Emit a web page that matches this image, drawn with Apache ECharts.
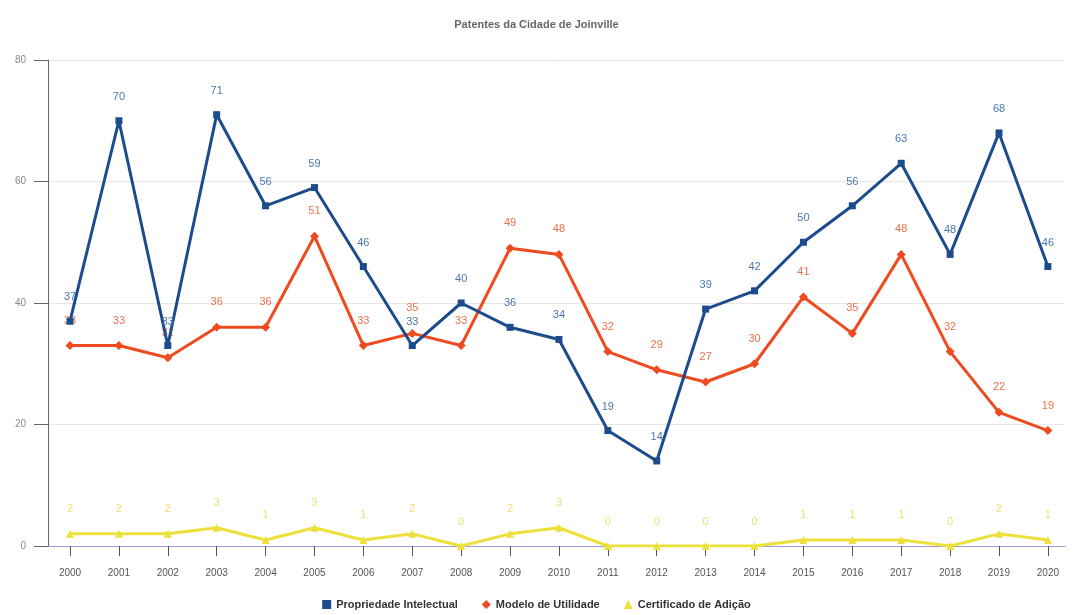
<!DOCTYPE html>
<html>
<head>
<meta charset="utf-8">
<script src="https://cdn.jsdelivr.net/npm/echarts@6/dist/echarts.min.js"></script>
<style>html,body{margin:0;padding:0;background:#fff;}#c{width:1073px;height:615px;}</style>
</head>
<body>
<div id="c"></div>
<script>
const years = [2000,2001,2002,2003,2004,2005,2006,2007,2008,2009,2010,2011,2012,2013,2014,2015,2016,2017,2018,2019,2020];
const propriedade = [37,70,33,71,56,59,46,33,40,36,34,19,14,39,42,50,56,63,48,68,46];
const modelo = [33,33,31,36,36,51,33,35,33,49,48,32,29,27,30,41,35,48,32,22,19];
const certificado = [2,2,2,3,1,3,1,2,0,2,3,0,0,0,0,1,1,1,0,2,1];
const yTicks = [0,20,40,60,80];

const pairs = arr => years.map((y,i)=>[y,arr[i]]);
const chart = echarts.init(document.getElementById('c'));
const labelCfg = (color)=>({show:true,position:'top',distance:15,color:color,fontSize:11,fontFamily:'Liberation Sans, Arial'});
chart.setOption({
  animation:false,
  title:{text:'Patentes da Cidade de Joinville',left:'center',top:14,textStyle:{fontSize:11,fontWeight:'bold',color:'#666',fontFamily:'Liberation Sans, Arial'}},
  legend:{bottom:0,left:'center',itemWidth:9,itemHeight:9,itemGap:24,
    textStyle:{fontSize:11,fontWeight:'bold',color:'#333',fontFamily:'Liberation Sans, Arial'},
    data:[{name:'Propriedade Intelectual',icon:'rect'},{name:'Modelo de Utilidade',icon:'diamond'},{name:'Certificado de Adição',icon:'triangle'}]},
  grid:{left:48,right:8,top:60,bottom:69,containLabel:false},
  xAxis:{type:'value',min:1999.55,max:2020.35,
    axisLine:{show:true,onZero:false,lineStyle:{color:'#9a9ad8',width:1}},
    axisTick:{show:true,length:10,customValues:years,lineStyle:{color:'#555'}},
    axisLabel:{customValues:years,color:'#555',fontSize:10,margin:22,fontFamily:'Liberation Sans, Arial',formatter:v=>String(v)},
    splitLine:{show:false}},
  yAxis:{type:'value',min:0,max:80,interval:20,
    axisLine:{show:true,lineStyle:{color:'#666'}},
    axisTick:{show:true,length:14,lineStyle:{color:'#666'}},
    axisLabel:{color:'#888',fontSize:10,margin:22,fontFamily:'Liberation Sans, Arial',customValues:yTicks},
    splitLine:{show:true,lineStyle:{color:'#e8e8e8'}}},
  series:[
    {name:'Propriedade Intelectual',type:'line',data:pairs(propriedade),symbol:'rect',symbolSize:7,
      itemStyle:{color:'#1d4c8c'},lineStyle:{width:3,color:'#1d4c8c'},label:labelCfg('#4a78b0'),z:3},
    {name:'Modelo de Utilidade',type:'line',data:pairs(modelo),symbol:'diamond',symbolSize:9,
      itemStyle:{color:'#ef4b20'},lineStyle:{width:3,color:'#ef4b20'},label:labelCfg('#f0704c'),z:2},
    {name:'Certificado de Adição',type:'line',data:pairs(certificado),symbol:'triangle',symbolSize:8,
      itemStyle:{color:'#ece13a'},lineStyle:{width:3,color:'#ece13a'},label:labelCfg('#eee070'),z:1}
  ]
});
</script>
</body>
</html>
